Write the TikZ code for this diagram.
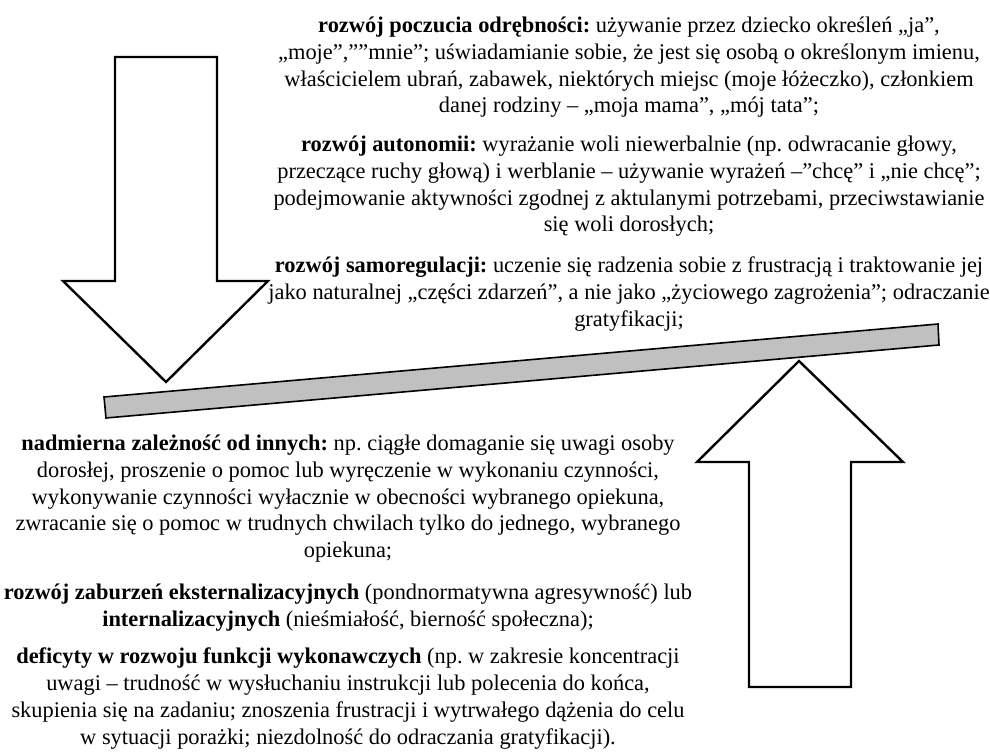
\documentclass[tikz,border=0pt]{standalone}
\usepackage{fontspec}
\setmainfont{Liberation Serif}
\frenchspacing
\definecolor{levergray}{RGB}{192,192,192}
\begin{document}
\begin{tikzpicture}[x=1pt,y=-1pt,
  bigarrow/.style={draw=black,line width=2.4pt,fill=white,line join=miter},
  lever/.style={draw=black,line width=1.6pt,fill=levergray,line join=miter},
  txt/.style={align=center,inner sep=0pt,anchor=north,
    font=\fontsize{22.4}{26.7}\selectfont\frenchspacing}]
\useasboundingbox (0,0) rectangle (990,754);

% pressing-down arrow (left) and supporting arrow (right)
\draw[bigarrow] (115,57) -- (217,57) -- (217,281) -- (268,281) -- (166,382)
  -- (63,281) -- (115,281) -- cycle;
\draw[bigarrow] (799,361) -- (903,462) -- (851,462) -- (851,687) -- (749,687)
  -- (749,462) -- (697,462) -- cycle;

% tilted lever
\draw[lever] (104,397) -- (938,324) -- (939,345) -- (106,418) -- cycle;

% upper texts
\node[txt] (odrebnosc) at (629,17) {\textbf{rozwój poczucia odrębności:} używanie przez dziecko określeń „ja”,\\
„moje”,””mnie”; uświadamianie sobie, że jest się osobą o określonym imienu,\\
właścicielem ubrań, zabawek, niektórych miejsc (moje łóżeczko), członkiem\\
danej rodziny – „moja mama”, „mój tata”;};
\node[txt] (autonomia) at (629,136) {\textbf{rozwój autonomii:} wyrażanie woli niewerbalnie (np. odwracanie głowy,\\
przeczące ruchy głową) i werblanie – używanie wyrażeń –”chcę” i „nie chcę”;\\
podejmowanie aktywności zgodnej z aktulanymi potrzebami, przeciwstawianie\\
się woli dorosłych;};
\node[txt] (samoregulacja) at (629,257) {\textbf{rozwój samoregulacji:} uczenie się radzenia sobie z frustracją i traktowanie jej\\
jako naturalnej „części zdarzeń”, a nie jako „życiowego zagrożenia”; odraczanie\\
gratyfikacji;};

% lower texts
\node[txt] (zaleznosc) at (348,435) {\textbf{nadmierna zależność od innych:} np. ciągłe domaganie się uwagi osoby\\
dorosłej, proszenie o pomoc lub wyręczenie w wykonaniu czynności,\\
wykonywanie czynności wyłacznie w obecności wybranego opiekuna,\\
zwracanie się o pomoc w trudnych chwilach tylko do jednego, wybranego\\
opiekuna;};
\node[txt] (zaburzenia) at (348,584) {\textbf{rozwój zaburzeń eksternalizacyjnych} (pondnormatywna agresywność) lub\\
\textbf{internalizacyjnych} (nieśmiałość, bierność społeczna);};
\node[txt] (deficyty) at (348,648) {\textbf{deficyty w rozwoju funkcji wykonawczych} (np. w zakresie koncentracji\\
uwagi – trudność w wysłuchaniu instrukcji lub polecenia do końca,\\
skupienia się na zadaniu; znoszenia frustracji i wytrwałego dążenia do celu\\
w sytuacji porażki; niezdolność do odraczania gratyfikacji).};
\end{tikzpicture}
\end{document}
